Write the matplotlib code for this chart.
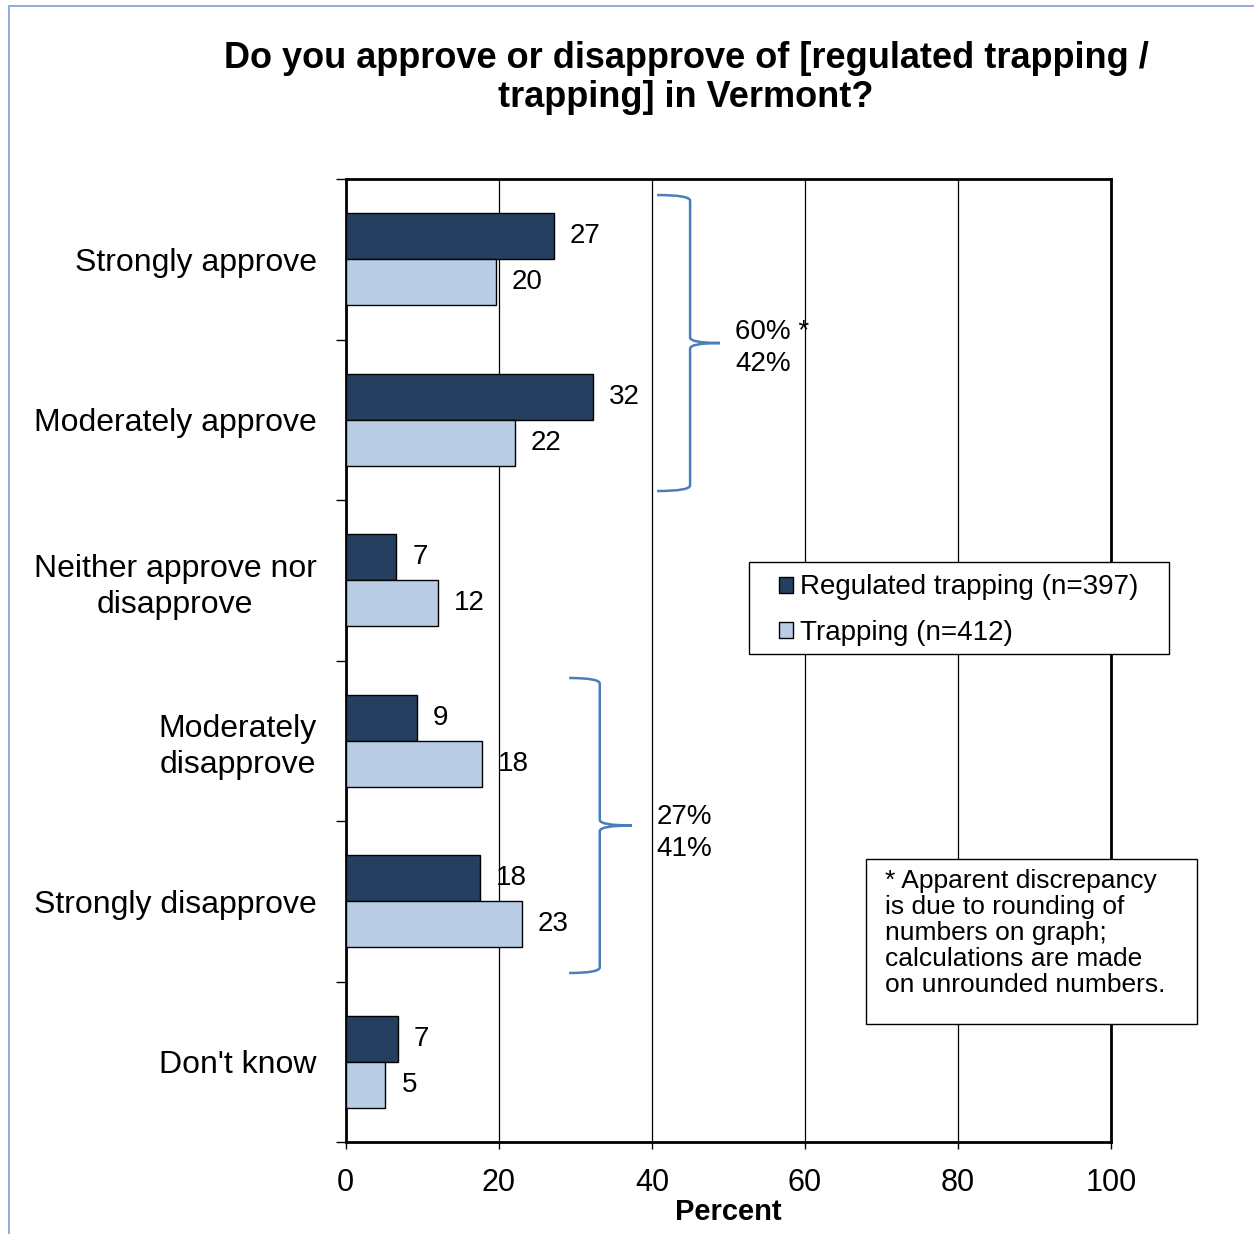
import numpy as np
import matplotlib
matplotlib.use("Agg")
import matplotlib.pyplot as plt
from matplotlib.path import Path
from matplotlib.patches import PathPatch, Rectangle

plt.rcParams['font.family'] = ['Liberation Sans', 'DejaVu Sans']

categories = ["Strongly approve", "Moderately approve", "Neither approve nor\ndisapprove",
              "Moderately\ndisapprove", "Strongly disapprove", "Don't know"]
regulated = [27.2, 32.3, 6.6, 9.3, 17.6, 6.8]
trapping = [19.6, 22.1, 12.0, 17.8, 23.0, 5.2]
series_names = ["Regulated trapping (n=397)", "Trapping (n=412)"]
xticks = [0, 20, 40, 60, 80, 100]

dark = "#243f60"
light = "#b9cde5"
brace_col = "#4a7ebb"

W, H = 1254, 1234
fig = plt.figure(figsize=(W / 100, H / 100), dpi=100)
ax = fig.add_axes([345.7 / W, 1 - 1142 / H, (1111 - 345.7) / W, (1142 - 179) / H])

pos = np.arange(len(categories))
bh = 0.287
b1 = ax.barh(pos - bh / 2, regulated, height=bh, color=dark, edgecolor="black", linewidth=1, label=series_names[0], zorder=3)
b2 = ax.barh(pos + bh / 2, trapping, height=bh, color=light, edgecolor="black", linewidth=1, label=series_names[1], zorder=3)

for bars, vals in ((b1, regulated), (b2, trapping)):
    for rect, v in zip(bars, vals):
        ax.annotate(f"{round(v)}", (v, rect.get_y() + rect.get_height() / 2),
                    xytext=(11.5, 0), textcoords="offset points",
                    ha="left", va="center", fontsize=20)

ax.set_xlim(0, 100)
ax.set_ylim(len(categories) - 0.5, -0.5)
ax.set_xticks(xticks)
ax.set_xticklabels([str(t) for t in xticks], fontsize=22)
ax.tick_params(axis="x", direction="out", length=5, width=1, pad=14)
ax.set_yticks(pos)
ax.set_yticklabels(categories, fontsize=23, multialignment="center", linespacing=1.25)
ax.tick_params(axis="y", length=0, pad=21)
ax.set_yticks(np.arange(-0.5, len(categories)), minor=True)
ax.tick_params(axis="y", which="minor", direction="out", length=7, width=1)
ax.grid(axis="x", color="black", linewidth=0.9, zorder=0)
ax.set_xlabel("Percent", fontsize=21, fontweight="bold", labelpad=0)
for s in ax.spines.values():
    s.set_linewidth(2)
    s.set_color("black")


def brace(x0, xv, xt, ytop, ybot, dy=0.035):
    ym = (ytop + ybot) / 2
    verts = [(x0, ytop), (xv, ytop), (xv, ytop + dy),
             (xv, ym - dy), (xv, ym), (xt, ym),
             (xv, ym), (xv, ym + dy),
             (xv, ybot - dy), (xv, ybot), (x0, ybot)]
    codes = [Path.MOVETO, Path.CURVE3, Path.CURVE3,
             Path.LINETO, Path.CURVE3, Path.CURVE3,
             Path.CURVE3, Path.CURVE3,
             Path.LINETO, Path.CURVE3, Path.CURVE3]
    ax.add_patch(PathPatch(Path(verts, codes), facecolor="none", edgecolor=brace_col,
                           linewidth=1.8, zorder=4, clip_on=False))


brace(40.7, 45.0, 48.9, -0.40, 1.444)
brace(29.2, 33.2, 37.4, 2.609, 4.447)

app = (round(sum(regulated[:2])), round(sum(trapping[:2])))
dis = (round(sum(regulated[3:5])), round(sum(trapping[3:5])))
ax.text(50.9, 0.55, f"{app[0]}% *\n{app[1]}%", fontsize=20, ha="left", va="center", linespacing=1.3)
ax.text(40.6, 3.575, f"{dis[0]}%\n{dis[1]}%", fontsize=20, ha="left", va="center", linespacing=1.3)

# legend box
fig.patches.append(Rectangle((749 / W, 1 - 654 / H), 420 / W, 92 / H, transform=fig.transFigure,
                             facecolor="white", edgecolor="black", linewidth=1, zorder=5))
leg = fig.legend(handles=[b1, b2], labels=series_names, loc="upper left",
                 bbox_to_anchor=(760 / W, 1 - 555 / H), frameon=False, fontsize=20,
                 handlelength=0.5, handleheight=0.5, handletextpad=0.25, labelspacing=0.7,
                 borderpad=0.2)
leg.set_zorder(6)

# note box
fig.patches.append(Rectangle((866 / W, 1 - 1024 / H), 331 / W, 165 / H, transform=fig.transFigure,
                             facecolor="white", edgecolor="black", linewidth=1, zorder=5))
fig.text(885 / W, 1 - 869 / H,
         "* Apparent discrepancy\nis due to rounding of\nnumbers on graph;\ncalculations are made\non unrounded numbers.",
         fontsize=19, ha="left", va="top", linespacing=1.1, zorder=6)

fig.text(686 / W, 1 - 78 / H, "Do you approve or disapprove of [regulated trapping /\ntrapping] in Vermont?",
         fontsize=26, fontweight="bold", ha="center", va="center", linespacing=1.18)

# outer frame
fig.patches.append(Rectangle((9 / W, -0.05), 1.1, 1 - 6 / H + 0.05, transform=fig.transFigure,
                             facecolor="none", edgecolor="#7aa0d4", linewidth=1.2))

fig.savefig("out.png", dpi=100)
